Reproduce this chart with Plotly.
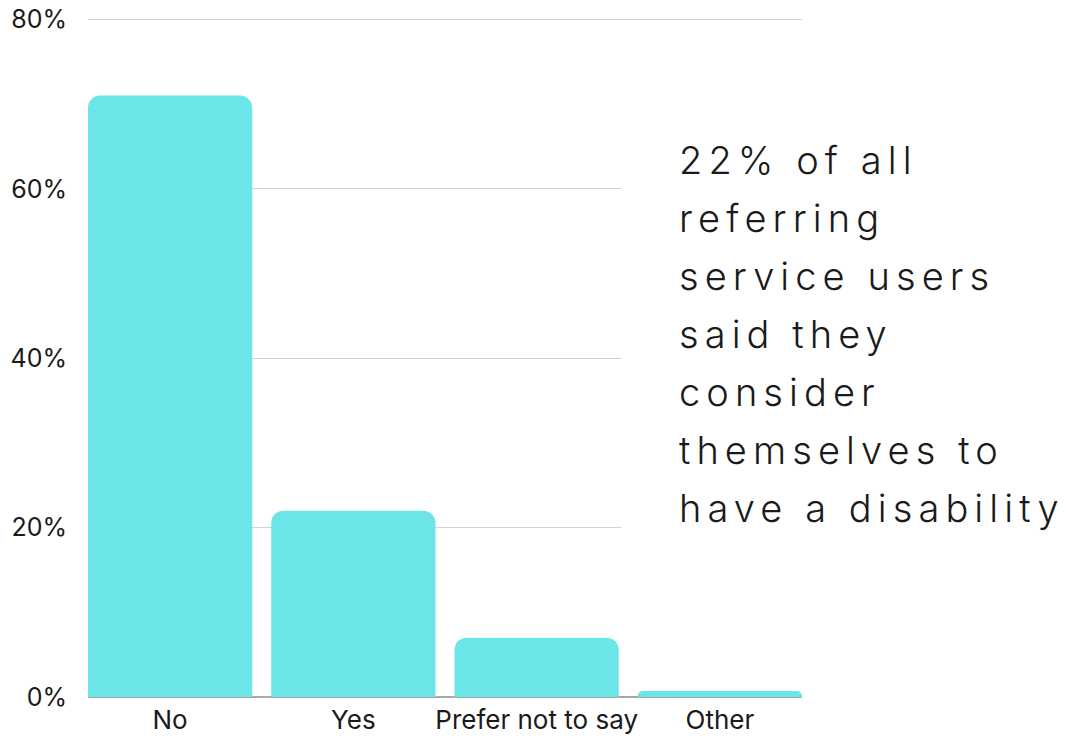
import plotly.graph_objects as go

# Survey responses: share of referring service users by disability status
categories = ["No", "Yes", "Prefer not to say", "Other"]
shares = [71.0, 22.0, 7.0, 0.7]
tick_values = [0, 20, 40, 60, 80]
tick_labels = ["0%", "20%", "40%", "60%", "80%"]

BAR_COLOR = "#6CE5E8"
TEXT_COLOR = "#1a1a1a"

W, H = 1080, 740
M_L, M_R, M_T, M_B = 88, 278, 16, 43
plot_w = W - M_L - M_R
plot_h = H - M_T - M_B
BAR_GAP = 0.104

fig = go.Figure(
    go.Bar(
        x=categories,
        y=shares,
        marker=dict(color=BAR_COLOR, line=dict(width=0)),
        hoverinfo="skip",
    )
)

# White panel behind the callout hides the gridlines there
panel_left_px, panel_top_px, panel_bottom_px = 621, 120, 560
fig.add_annotation(
    x=(panel_left_px - M_L) / plot_w,
    xref="paper",
    xanchor="left",
    y=(H - M_B - panel_top_px) / plot_h,
    yref="paper",
    yanchor="top",
    text=" ",
    showarrow=False,
    width=W - panel_left_px,
    height=panel_bottom_px - panel_top_px,
    bgcolor="white",
    borderpad=0,
    borderwidth=0,
)

# Callout text, one annotation per line so the leading can be set freely
yes_share = shares[categories.index("Yes")]
callout_lines = [
    f"{yes_share:.0f}% of all",
    "referring",
    "service users",
    "said they",
    "consider",
    "themselves to",
    "have a disability",
]
first_baseline_px = 173
line_step_px = 58
font_size = 38
for i, line in enumerate(callout_lines):
    baseline = first_baseline_px + i * line_step_px
    center_px = baseline - 0.33 * font_size
    fig.add_annotation(
        x=(677 - M_L) / plot_w,
        xref="paper",
        xanchor="left",
        y=(H - M_B - center_px) / plot_h,
        yref="paper",
        yanchor="middle",
        text=f'<span style="letter-spacing:0.16em">{line}</span>',
        showarrow=False,
        font=dict(family="Inter", size=font_size, color=TEXT_COLOR, weight=300),
        align="left",
    )

fig.update_layout(
    width=W,
    height=H,
    margin=dict(l=M_L, r=M_R, t=M_T, b=M_B, pad=0),
    paper_bgcolor="white",
    plot_bgcolor="white",
    bargap=BAR_GAP,
    barcornerradius=12,
    showlegend=False,
    font=dict(family="Inter", color=TEXT_COLOR),
    xaxis=dict(
        # outer bars sit flush with the plot edges
        range=[-0.5 + BAR_GAP / 2, len(categories) - 0.5 - BAR_GAP / 2],
        showgrid=False,
        showline=False,
        ticks="",
        tickfont=dict(family="Inter", size=26, color=TEXT_COLOR),
        ticklabelstandoff=5,
        automargin=False,
        fixedrange=True,
    ),
    yaxis=dict(
        # a little headroom so the 80% gridline is kept
        range=[0, 80.4],
        tickvals=tick_values,
        ticktext=tick_labels,
        showgrid=True,
        gridcolor="#d2d2d2",
        gridwidth=1,
        zeroline=True,
        zerolinecolor="#a8a8a8",
        zerolinewidth=1.5,
        showline=False,
        ticks="",
        tickfont=dict(family="Inter", size=25, color=TEXT_COLOR),
        ticklabelstandoff=20,
        automargin=False,
        fixedrange=True,
    ),
)

fig.write_html("out.html", config=dict(displayModeBar=False))
